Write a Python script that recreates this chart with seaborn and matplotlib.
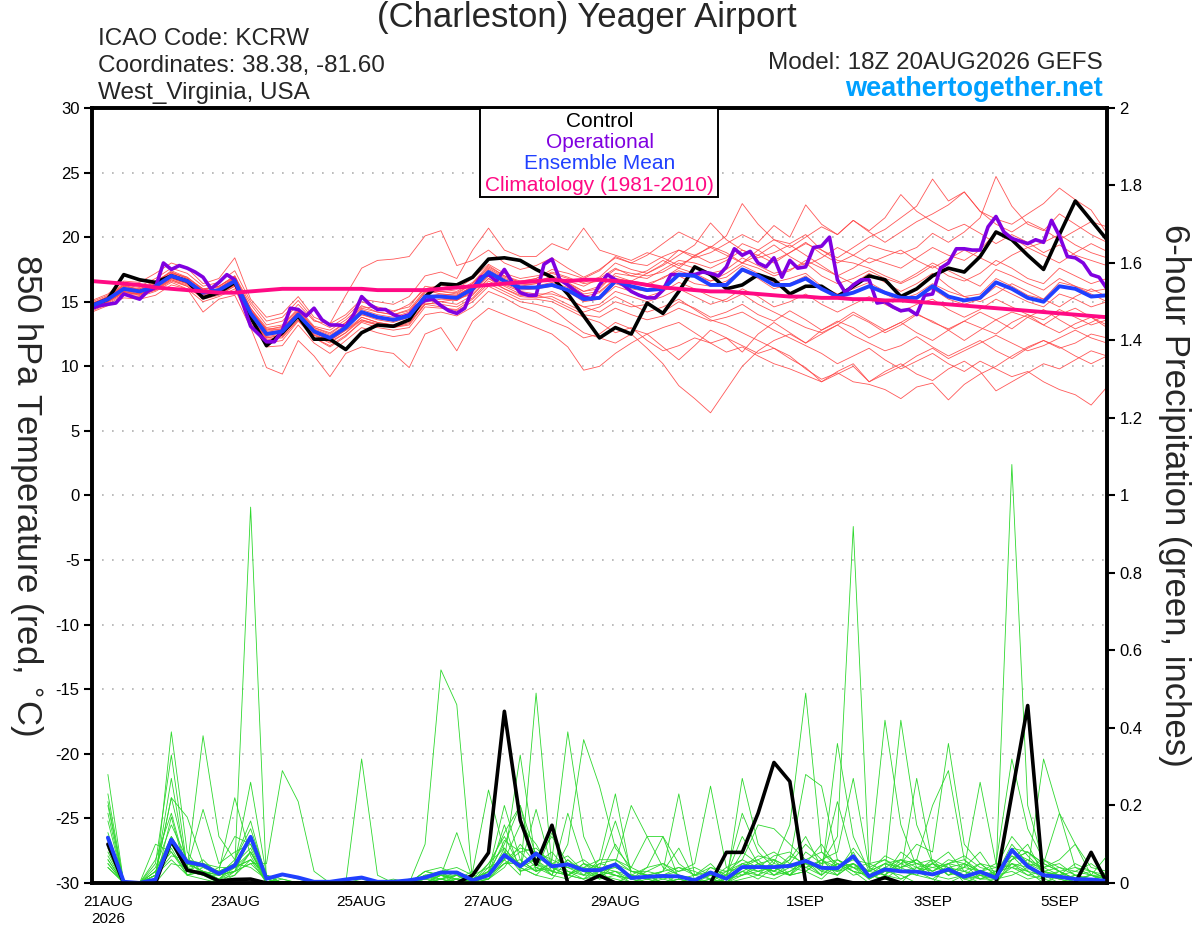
import numpy as np
import pandas as pd
import matplotlib
matplotlib.use("Agg")
import matplotlib.pyplot as plt
from matplotlib.patches import Rectangle
import seaborn as sns

# 850 hPa temperature (deg C), 6-hourly from 20AUG 18Z
control_t = [14.7, 15.2, 17.1, 16.7, 16.5, 17.0, 16.6, 15.3, 15.7, 16.5, 13.8, 11.6, 12.6, 13.9, 12.1,
             12.1, 11.3, 12.6, 13.2, 13.1, 13.6, 15.4, 16.4, 16.3, 16.9, 18.3, 18.4, 18.2, 17.5, 16.9,
             15.6, 13.9, 12.2, 13.0, 12.5, 14.9, 14.1, 15.8, 17.7, 17.1, 16.0, 16.3, 17.1, 16.7, 15.6,
             16.2, 16.2, 15.4, 16.2, 17.0, 16.7, 15.4, 16.0, 17.0, 17.6, 17.3, 18.5, 20.4, 19.8, 18.6,
             17.5, 20.2, 22.8, 21.3, 19.8]
ens_mean_t = [14.7, 15.2, 16.0, 15.8, 16.2, 17.0, 16.6, 15.7, 15.9, 16.6, 14.1, 12.5, 12.7, 14.0, 12.7,
              12.2, 13.0, 14.2, 13.8, 13.6, 13.9, 15.4, 15.4, 15.3, 16.0, 17.3, 16.6, 16.1, 16.1, 16.3,
              15.9, 15.2, 15.3, 16.6, 16.2, 15.9, 16.0, 17.1, 17.0, 16.3, 16.3, 17.5, 17.0, 16.3, 16.3,
              16.8, 16.0, 15.4, 15.7, 16.2, 15.7, 15.3, 15.3, 16.2, 15.4, 15.1, 15.3, 16.5, 16.0, 15.3,
              15.0, 16.2, 16.0, 15.4, 15.5]
climo_t = [16.6, 16.5, 16.4, 16.3, 16.1, 16.0, 15.9, 15.8, 15.7, 15.7, 15.8, 15.9, 16.0, 16.0, 16.0,
           16.0, 16.0, 16.0, 15.9, 15.9, 15.9, 15.9, 16.0, 16.1, 16.2, 16.3, 16.4, 16.5, 16.6, 16.7,
           16.6, 16.7, 16.7, 16.6, 16.5, 16.3, 16.1, 16.0, 15.9, 15.8, 15.8, 15.7, 15.6, 15.5, 15.4,
           15.4, 15.3, 15.3, 15.2, 15.2, 15.1, 15.1, 15.0, 14.9, 14.8, 14.7, 14.6, 14.5, 14.4, 14.3,
           14.2, 14.1, 14.0, 13.9, 13.8]
# operational run is 3-hourly
oper_t = [14.5, 14.7, 14.8, 14.9, 15.6, 15.4, 15.2, 15.8, 16.1, 18.0,
          17.5, 17.8, 17.6, 17.3, 16.9, 16.0, 16.5, 17.1, 16.7, 14.9,
          13.1, 12.5, 11.9, 11.9, 12.8, 14.5, 14.4, 13.9, 14.5, 13.6,
          13.2, 13.2, 13.1, 14.0, 15.4, 14.8, 14.4, 14.4, 14.0, 13.8,
          14.0, 14.7, 15.1, 15.2, 14.7, 14.3, 14.1, 14.5, 16.0, 16.9,
          17.1, 16.6, 17.5, 16.5, 15.7, 15.5, 15.5, 17.9, 18.3, 16.7,
          16.3, 15.8, 15.4, 15.2, 16.3, 17.1, 16.7, 16.3, 15.8, 15.5,
          15.3, 15.3, 15.9, 17.1, 17.1, 17.1, 17.1, 17.3, 17.2, 17.0,
          17.7, 19.1, 18.6, 18.9, 18.0, 17.7, 18.4, 16.9, 18.2, 17.6,
          17.7, 19.2, 19.3, 20.0, 16.7, 15.7, 16.3, 16.7, 16.7, 14.9,
          15.0, 14.6, 14.3, 14.4, 14.0, 15.5, 15.6, 17.6, 18.0, 19.1,
          19.1, 19.0, 19.0, 20.8, 21.6, 20.4, 19.9, 19.7, 19.5, 19.8,
          19.6, 21.3, 20.1, 18.5, 18.4, 18.0, 17.1, 16.9, 16.0]

# ensemble members, 850 hPa temperature
t01 = [14.5, 15.0, 15.8, 16.0, 16.5, 17.3, 16.8, 15.5, 16.0, 16.9, 14.5, 12.8, 12.9, 14.3, 13.0, 12.5, 13.4, 14.6, 14.5, 14.2, 14.8, 16.0, 16.3, 16.0, 16.8, 17.9, 17.2, 16.8, 17.0, 17.2, 16.8, 16.5, 16.9, 18.0, 17.5, 17.2, 17.9, 19.0, 18.6, 18.0, 18.4, 19.5, 19.0, 18.2, 18.8, 19.6, 18.7, 18.0, 18.6, 19.4, 19.0, 18.7, 19.2, 20.3, 19.6, 20.4, 21.5, 24.7, 22.4, 21.0, 20.5, 21.8, 21.0, 20.2, 19.6]
t02 = [14.8, 15.4, 16.2, 15.9, 16.4, 17.1, 16.7, 15.9, 16.2, 17.0, 14.8, 13.2, 13.5, 14.8, 13.5, 13.3, 15.5, 17.6, 18.2, 18.3, 18.5, 20.1, 20.5, 17.8, 18.2, 19.0, 18.0, 17.5, 17.8, 18.4, 17.6, 16.9, 17.5, 18.4, 18.0, 18.6, 19.5, 20.4, 19.8, 19.2, 20.1, 22.6, 21.0, 19.8, 19.5, 20.2, 19.0, 18.2, 18.0, 17.6, 17.0, 16.5, 17.2, 18.0, 17.4, 16.8, 16.2, 17.5, 17.0, 16.4, 15.9, 16.8, 16.2, 15.6, 15.0]
t03 = [14.4, 14.9, 15.6, 15.5, 15.9, 16.6, 16.2, 15.3, 15.6, 16.2, 13.6, 11.8, 12.0, 13.5, 12.2, 11.5, 12.3, 13.5, 13.2, 13.0, 13.2, 14.8, 14.6, 14.3, 15.0, 16.2, 15.6, 15.0, 14.8, 14.5, 13.5, 12.6, 12.2, 11.8, 12.5, 11.4, 10.2, 8.5, 7.5, 6.4, 8.2, 10.0, 11.2, 12.0, 12.5, 11.8, 12.8, 13.5, 13.0, 12.2, 12.8, 13.4, 12.6, 12.0, 12.8, 13.5, 13.0, 12.5, 13.4, 14.0, 13.2, 12.6, 13.3, 13.8, 13.0]
t04 = [15.0, 15.5, 16.4, 16.2, 16.8, 17.6, 17.2, 16.2, 16.5, 17.4, 15.0, 13.5, 13.8, 15.1, 13.6, 13.0, 13.8, 15.0, 14.6, 14.3, 14.6, 16.2, 16.0, 15.8, 16.5, 17.8, 17.0, 16.5, 16.8, 17.5, 17.2, 16.8, 17.4, 18.5, 18.0, 17.8, 18.5, 19.0, 18.4, 18.8, 19.5, 20.2, 19.6, 20.9, 20.0, 22.5, 21.0, 20.2, 21.3, 20.5, 21.5, 23.3, 22.0, 21.2, 20.5, 21.0, 20.3, 19.5, 20.2, 19.6, 18.8, 19.4, 18.6, 18.2, 17.8]
t05 = [14.6, 15.1, 15.9, 15.6, 16.0, 16.8, 16.4, 15.4, 15.8, 16.4, 13.9, 12.2, 12.4, 13.8, 12.4, 11.8, 12.6, 13.8, 13.4, 13.2, 13.5, 15.1, 15.0, 14.8, 15.5, 16.8, 16.2, 15.6, 15.5, 15.2, 14.6, 14.0, 13.8, 14.5, 14.0, 13.6, 13.9, 14.5, 14.0, 13.5, 13.8, 14.2, 13.5, 12.8, 12.2, 11.6, 11.0, 10.2, 10.8, 11.4, 10.5, 9.8, 10.4, 11.0, 10.2, 9.6, 10.4, 9.8, 9.2, 9.6, 8.8, 8.2, 7.8, 7.0, 8.4]
t06 = [14.9, 15.3, 16.1, 15.9, 16.3, 17.2, 16.9, 16.0, 16.1, 16.8, 14.2, 12.6, 12.8, 14.2, 12.9, 12.4, 13.2, 14.4, 14.0, 13.8, 14.2, 15.8, 15.8, 15.6, 16.4, 17.6, 16.9, 16.5, 16.6, 16.9, 16.5, 15.8, 16.0, 17.2, 17.0, 16.8, 17.5, 18.2, 18.0, 17.6, 18.2, 19.0, 18.6, 18.0, 18.8, 19.5, 19.0, 18.4, 19.2, 20.0, 20.6, 21.5, 22.4, 24.5, 22.8, 23.5, 22.0, 21.4, 21.0, 21.8, 22.6, 23.8, 22.9, 22.1, 20.3]
t07 = [14.3, 14.8, 15.5, 15.4, 15.8, 16.5, 16.0, 15.0, 15.4, 16.0, 13.4, 11.5, 11.6, 13.2, 11.8, 11.0, 12.0, 13.0, 12.6, 12.3, 12.5, 14.0, 14.2, 13.9, 14.6, 15.8, 15.3, 14.6, 14.2, 13.5, 13.0, 12.2, 12.5, 13.4, 12.9, 12.5, 13.0, 13.4, 12.6, 11.8, 12.2, 11.6, 11.0, 11.4, 10.8, 9.8, 9.0, 9.5, 8.8, 8.6, 8.2, 7.5, 8.4, 8.7, 7.4, 8.6, 9.4, 10.0, 10.8, 11.5, 12.0, 11.4, 11.8, 12.5, 12.2]
t08 = [14.7, 15.3, 16.0, 15.7, 16.1, 16.9, 16.5, 15.8, 16.0, 16.7, 14.3, 12.9, 13.0, 14.2, 12.8, 12.3, 13.1, 14.0, 13.6, 13.4, 13.8, 15.2, 15.5, 15.4, 16.2, 17.4, 16.7, 16.3, 16.4, 16.8, 16.4, 15.8, 16.2, 17.0, 16.6, 16.4, 16.8, 17.6, 17.2, 16.6, 16.9, 17.8, 17.2, 16.5, 16.8, 17.2, 16.2, 15.6, 16.0, 16.5, 15.8, 15.2, 15.6, 16.4, 15.8, 15.4, 15.6, 16.8, 16.2, 15.5, 15.2, 16.5, 16.2, 15.8, 16.0]
t09 = [14.2, 14.7, 15.3, 15.2, 15.5, 16.3, 16.0, 14.2, 15.2, 15.5, 13.0, 9.9, 9.4, 12.0, 10.8, 9.2, 11.0, 11.5, 11.2, 11.0, 9.9, 12.5, 13.0, 11.2, 13.5, 14.5, 14.0, 13.5, 13.0, 12.5, 11.5, 9.7, 10.0, 11.0, 11.8, 12.5, 11.5, 10.5, 11.6, 12.8, 12.2, 11.1, 12.5, 13.4, 12.6, 11.8, 12.5, 13.2, 14.0, 13.4, 12.6, 13.2, 14.0, 13.5, 12.8, 12.0, 12.8, 13.6, 14.2, 13.8, 13.2, 14.0, 14.5, 13.8, 13.2]
t10 = [15.1, 15.6, 16.6, 16.5, 17.2, 18.0, 17.6, 16.4, 16.8, 18.4, 15.2, 13.8, 14.1, 15.4, 13.8, 13.3, 14.0, 15.2, 15.0, 14.8, 15.4, 17.0, 17.3, 16.8, 19.0, 20.7, 19.0, 18.5, 18.5, 19.5, 19.0, 20.7, 19.0, 18.6, 18.2, 18.8, 18.4, 17.8, 18.5, 19.3, 18.8, 18.0, 18.6, 19.4, 18.5, 17.8, 18.4, 19.2, 18.6, 18.0, 18.5, 19.0, 18.2, 17.6, 18.3, 19.0, 18.4, 17.8, 18.6, 19.2, 18.6, 18.0, 18.8, 19.5, 18.9]
t11 = [14.5, 15.0, 15.7, 15.6, 16.0, 16.7, 16.3, 15.5, 15.7, 16.3, 13.8, 12.0, 12.3, 13.6, 12.4, 12.0, 12.8, 13.6, 13.2, 13.0, 13.4, 14.8, 15.0, 15.2, 15.6, 16.8, 16.0, 15.5, 15.4, 15.8, 15.2, 14.6, 14.2, 15.0, 14.6, 14.8, 14.2, 15.0, 14.5, 13.8, 14.2, 14.8, 14.0, 13.5, 14.3, 13.6, 12.8, 13.4, 14.2, 13.5, 12.8, 13.4, 14.1, 13.4, 12.9, 13.5, 14.2, 13.6, 12.9, 13.8, 14.4, 13.6, 12.9, 13.4, 14.0]
t12 = [14.8, 15.3, 16.2, 16.0, 16.5, 17.4, 16.9, 15.9, 16.2, 17.0, 14.5, 13.0, 13.2, 14.5, 13.1, 12.8, 13.6, 14.7, 14.2, 14.0, 14.4, 15.9, 15.6, 15.5, 16.2, 17.5, 16.8, 16.4, 16.5, 17.0, 16.6, 16.2, 16.8, 17.6, 17.0, 17.4, 18.2, 17.6, 18.6, 19.2, 18.6, 18.0, 19.0, 19.8, 19.2, 20.0, 20.8, 20.2, 21.3, 20.4, 19.6, 20.4, 21.2, 21.8, 22.5, 23.5, 22.0, 21.0, 20.4, 21.2, 20.6, 19.8, 20.5, 21.2, 20.8]
t13 = [14.6, 15.2, 15.9, 15.7, 16.2, 16.9, 16.5, 15.6, 15.8, 16.5, 14.0, 12.4, 12.6, 13.9, 12.6, 12.1, 12.9, 14.2, 13.8, 13.6, 13.9, 15.4, 15.3, 15.1, 15.8, 17.0, 16.4, 15.9, 16.0, 16.2, 15.8, 15.0, 15.2, 16.2, 15.8, 15.4, 15.8, 16.5, 16.0, 15.4, 15.0, 15.6, 14.8, 14.2, 13.6, 13.0, 12.6, 13.2, 12.4, 11.8, 11.2, 11.6, 12.3, 11.5, 10.8, 11.4, 12.0, 11.2, 10.6, 11.4, 12.0, 11.5, 10.8, 10.2, 10.8]
t14 = [14.8, 15.4, 16.3, 16.1, 16.6, 17.3, 16.8, 16.0, 16.2, 16.9, 14.4, 12.8, 13.1, 14.4, 13.0, 12.6, 13.4, 14.5, 14.2, 14.0, 14.3, 15.7, 15.8, 15.7, 16.4, 17.7, 17.0, 16.6, 16.8, 17.3, 16.9, 16.4, 16.6, 17.5, 17.2, 17.0, 17.3, 18.0, 17.6, 17.2, 17.5, 18.4, 17.8, 17.2, 17.5, 18.0, 17.0, 16.4, 16.8, 17.4, 16.8, 16.4, 17.0, 17.8, 17.0, 16.6, 17.2, 18.2, 17.6, 16.8, 16.4, 17.6, 17.0, 16.4, 16.8]
t15 = [14.5, 15.1, 15.8, 15.5, 15.9, 16.7, 16.2, 15.2, 15.5, 16.2, 13.7, 12.1, 12.2, 13.6, 12.2, 11.6, 12.4, 13.4, 13.0, 12.8, 13.0, 14.6, 14.5, 14.4, 15.2, 16.4, 15.8, 15.2, 15.2, 15.0, 14.4, 13.8, 13.4, 12.6, 13.0, 12.0, 11.2, 11.6, 12.2, 11.8, 11.1, 11.5, 10.8, 10.2, 9.8, 9.3, 8.8, 9.4, 10.0, 8.8, 9.6, 10.2, 9.4, 8.9, 9.8, 10.4, 9.6, 8.1, 8.8, 9.5, 10.2, 9.8, 10.5, 11.2, 10.8]
t16 = [14.9, 15.4, 16.3, 15.9, 16.4, 17.2, 16.7, 15.7, 16.0, 16.8, 14.3, 12.7, 12.9, 14.2, 12.8, 12.2, 13.0, 14.2, 13.8, 13.5, 13.8, 15.4, 15.6, 15.5, 16.2, 17.4, 16.6, 16.2, 16.4, 16.8, 16.4, 15.6, 15.8, 16.8, 16.6, 17.2, 17.8, 18.6, 19.4, 21.1, 19.8, 19.0, 18.4, 18.8, 19.4, 18.6, 17.8, 17.0, 16.4, 17.2, 16.5, 15.8, 16.4, 17.2, 16.2, 15.4, 15.0, 15.6, 16.4, 15.8, 15.2, 14.6, 15.4, 16.0, 15.4]
t17 = [14.4, 15.0, 15.7, 15.6, 16.0, 16.8, 16.4, 15.6, 15.8, 16.4, 13.9, 12.3, 12.5, 13.9, 12.6, 12.0, 12.8, 13.8, 13.4, 13.2, 13.6, 15.0, 15.2, 15.1, 15.8, 17.0, 16.3, 15.8, 15.6, 15.6, 15.2, 14.6, 14.8, 15.8, 15.4, 15.0, 15.4, 16.0, 15.4, 14.8, 15.2, 16.0, 15.4, 14.6, 15.0, 15.6, 14.8, 14.2, 14.8, 15.4, 14.8, 14.2, 14.8, 15.2, 14.4, 13.8, 14.4, 15.2, 14.6, 14.0, 13.6, 14.4, 13.8, 13.2, 13.6]
t18 = [14.7, 15.2, 16.1, 15.8, 16.3, 17.1, 16.6, 15.8, 16.0, 16.6, 14.2, 12.6, 12.8, 14.1, 12.7, 12.2, 13.0, 14.0, 13.7, 13.5, 13.9, 15.3, 15.4, 15.3, 16.0, 17.2, 16.5, 16.1, 16.2, 16.5, 16.1, 15.4, 15.7, 16.8, 16.5, 16.2, 16.9, 17.4, 17.0, 16.6, 17.2, 18.0, 17.6, 17.0, 17.4, 18.2, 17.6, 17.0, 17.6, 18.4, 18.0, 17.6, 18.4, 19.2, 18.6, 18.2, 19.0, 20.4, 20.0, 19.2, 19.6, 20.2, 19.4, 18.8, 18.4]
t19 = [14.6, 15.0, 15.8, 15.6, 16.1, 16.9, 16.4, 15.4, 15.7, 16.3, 13.8, 12.2, 12.4, 13.8, 12.5, 11.9, 12.6, 13.6, 13.3, 13.0, 13.3, 14.9, 14.8, 14.6, 15.3, 16.6, 16.0, 15.4, 15.3, 15.4, 14.8, 14.2, 14.6, 15.4, 14.8, 14.2, 14.6, 15.2, 14.4, 13.6, 13.2, 12.6, 12.0, 11.4, 10.6, 9.9, 8.8, 9.6, 10.2, 8.8, 9.4, 10.0, 10.8, 11.4, 10.6, 11.2, 11.8, 12.4, 11.8, 11.2, 11.6, 12.2, 12.8, 12.2, 11.8]
t20 = [14.8, 15.3, 16.0, 15.9, 16.3, 17.0, 16.6, 15.7, 15.9, 16.6, 14.1, 12.5, 12.7, 14.0, 12.7, 12.2, 13.0, 14.1, 13.8, 13.6, 14.0, 15.4, 15.5, 15.2, 16.0, 17.3, 16.6, 16.0, 16.1, 16.3, 15.9, 15.2, 15.4, 16.4, 16.0, 15.8, 16.2, 17.0, 16.4, 16.2, 16.6, 17.4, 16.8, 16.0, 16.4, 17.0, 16.0, 15.4, 15.8, 16.2, 15.6, 15.0, 15.4, 16.0, 15.2, 14.8, 15.2, 16.2, 15.6, 15.0, 14.6, 15.6, 15.2, 14.6, 15.0]

# 6-hour precipitation (inches), 6-hourly from 21AUG 00Z
control_p = [0.10, 0, 0, 0, 0.11, 0.033, 0.024, 0.005, 0.009, 0.010, 0, 0, 0, 0, 0, 0,
             0, 0, 0, 0, 0, 0, 0, 0.02, 0.078, 0.443, 0.162, 0.048, 0.149, 0, 0, 0.019,
             0, 0, 0, 0, 0, 0, 0, 0.079, 0.079, 0.180, 0.311, 0.262, 0, 0, 0.009, 0,
             0, 0.014, 0, 0, 0, 0, 0, 0, 0, 0.229, 0.458, 0, 0, 0, 0.079, 0]
ens_mean_p = [0.117, 0.003, 0.0, 0.009, 0.112, 0.054, 0.046, 0.024, 0.045, 0.119, 0.011, 0.022, 0.014, 0.003, 0.003, 0.009,
              0.014, 0.003, 0.003, 0.007, 0.014, 0.027, 0.027, 0.007, 0.020, 0.072, 0.043, 0.076, 0.043, 0.048, 0.033, 0.033,
              0.048, 0.013, 0.016, 0.018, 0.017, 0.007, 0.027, 0.011, 0.041, 0.041, 0.041, 0.044, 0.057, 0.039, 0.038, 0.069,
              0.017, 0.035, 0.030, 0.029, 0.022, 0.035, 0.016, 0.029, 0.013, 0.085, 0.043, 0.020, 0.016, 0.010, 0.009, 0.005]

p01 = [0.28, 0, 0, 0.02, 0.22, 0.05, 0.03, 0.01, 0.04, 0.97, 0, 0.01, 0, 0, 0, 0, 0, 0, 0, 0, 0.02, 0.03, 0, 0, 0.05, 0.12, 0.04, 0.02, 0.01, 0.06, 0.03, 0.01, 0.02, 0, 0, 0, 0.01, 0, 0.03, 0, 0.02, 0.05, 0.03, 0.06, 0.12, 0.04, 0.02, 0.08, 0.01, 0.03, 0.02, 0, 0, 0.05, 0, 0.02, 0, 0.06, 0.1, 0.02, 0, 0.01, 0, 0]
p02 = [0.23, 0, 0, 0, 0.39, 0.08, 0.02, 0, 0.03, 0.12, 0, 0, 0, 0, 0, 0, 0, 0, 0, 0, 0.1, 0.55, 0.46, 0, 0.02, 0.08, 0.03, 0.05, 0.02, 0.01, 0.04, 0.02, 0.01, 0, 0.01, 0, 0, 0, 0, 0, 0.04, 0.02, 0.01, 0.03, 0.06, 0.02, 0.05, 0.03, 0, 0.02, 0.06, 0.03, 0.01, 0, 0.02, 0, 0.01, 0.08, 0.04, 0.01, 0.03, 0, 0, 0]
p03 = [0.21, 0, 0, 0.05, 0.33, 0.04, 0.38, 0.12, 0.06, 0.16, 0.01, 0, 0, 0, 0, 0, 0, 0, 0, 0, 0, 0.02, 0.01, 0, 0.01, 0.06, 0.02, 0.49, 0.04, 0.02, 0.01, 0.03, 0, 0.02, 0, 0, 0, 0, 0, 0.01, 0.03, 0.01, 0.04, 0.02, 0.03, 0.06, 0.02, 0.05, 0.02, 0.01, 0, 0.04, 0.02, 0.03, 0.01, 0, 0, 0.05, 0.03, 0, 0.02, 0.01, 0, 0.01]
p04 = [0.20, 0, 0, 0.02, 0.27, 0.03, 0.05, 0.02, 0.03, 0.08, 0, 0.02, 0.01, 0, 0, 0, 0, 0, 0, 0, 0.01, 0.02, 0.03, 0.01, 0.02, 0.07, 0.05, 0.06, 0.03, 0.02, 0.04, 0.01, 0.05, 0.01, 0, 0.02, 0, 0, 0.02, 0, 0.04, 0.03, 0.02, 0.05, 0.04, 0.02, 0.06, 0.03, 0.02, 0.04, 0.01, 0.03, 0.05, 0.02, 0.04, 0.08, 0.02, 1.08, 0.2, 0.05, 0.03, 0.01, 0.02, 0]
p05 = [0.18, 0, 0, 0, 0.17, 0.02, 0.01, 0, 0.02, 0.06, 0.02, 0, 0, 0, 0, 0, 0, 0, 0, 0.01, 0, 0.01, 0.02, 0, 0.03, 0.2, 0.06, 0.03, 0.05, 0.04, 0.02, 0.02, 0.03, 0, 0.02, 0, 0, 0, 0, 0, 0.03, 0.02, 0.06, 0.02, 0.08, 0.05, 0.12, 0.92, 0.04, 0.02, 0.01, 0.03, 0.06, 0.02, 0.05, 0.01, 0.03, 0.04, 0.06, 0.03, 0.02, 0, 0.01, 0]
p06 = [0.13, 0, 0, 0.03, 0.12, 0.05, 0.04, 0.03, 0.22, 0.07, 0, 0, 0, 0, 0, 0, 0, 0, 0, 0, 0, 0.01, 0, 0, 0.04, 0.06, 0.33, 0.05, 0.03, 0.02, 0.05, 0.04, 0.02, 0.01, 0, 0.01, 0, 0, 0.01, 0, 0.27, 0.1, 0.05, 0.15, 0.49, 0.08, 0.05, 0.03, 0.02, 0.05, 0.03, 0.02, 0.01, 0.04, 0.02, 0.01, 0.01, 0.04, 0.02, 0.01, 0, 0.02, 0.01, 0]
p07 = [0.10, 0, 0, 0, 0.10, 0.03, 0.02, 0.01, 0.05, 0.26, 0.02, 0, 0, 0, 0, 0, 0, 0, 0, 0, 0.02, 0.01, 0.03, 0.01, 0.01, 0.09, 0.04, 0.02, 0.06, 0.39, 0.12, 0.03, 0.02, 0.01, 0.02, 0, 0.01, 0, 0, 0.01, 0.03, 0.05, 0.02, 0.04, 0.03, 0.01, 0.05, 0.02, 0.03, 0.42, 0.15, 0.04, 0.02, 0.03, 0.01, 0.02, 0.01, 0.02, 0.04, 0.02, 0.01, 0, 0.01, 0.02]
p08 = [0.08, 0, 0, 0.1, 0.08, 0.02, 0.03, 0.02, 0.03, 0.05, 0.05, 0.29, 0.21, 0.03, 0, 0, 0, 0, 0, 0, 0, 0, 0.01, 0, 0.02, 0.15, 0.03, 0.04, 0.02, 0.1, 0.37, 0.25, 0.09, 0.04, 0.02, 0, 0.01, 0, 0.01, 0, 0.01, 0.02, 0.04, 0.02, 0.03, 0.06, 0.03, 0.04, 0.01, 0.03, 0.05, 0.06, 0.02, 0.01, 0.02, 0.03, 0.02, 0.03, 0.01, 0.02, 0.01, 0, 0, 0.01]
p09 = [0.06, 0, 0, 0.02, 0.22, 0.17, 0.05, 0.02, 0.04, 0.06, 0, 0, 0, 0, 0, 0, 0.32, 0.02, 0, 0, 0.03, 0.02, 0.02, 0, 0.02, 0.05, 0.06, 0.03, 0.04, 0.02, 0.01, 0.05, 0.04, 0.02, 0.01, 0, 0.02, 0, 0, 0, 0.05, 0.03, 0.04, 0.02, 0.05, 0.02, 0.36, 0.12, 0.03, 0.02, 0.05, 0.1, 0.08, 0.36, 0.1, 0.05, 0.02, 0.07, 0.03, 0.02, 0.03, 0.01, 0.02, 0.01]
p10 = [0.05, 0, 0, 0, 0.05, 0.04, 0.19, 0.05, 0.08, 0.1, 0, 0, 0, 0, 0, 0, 0, 0, 0.01, 0, 0, 0.02, 0.01, 0, 0.03, 0.1, 0.2, 0.03, 0.13, 0.02, 0.04, 0.06, 0.23, 0.02, 0.01, 0.03, 0.23, 0.02, 0.05, 0.01, 0.02, 0.04, 0.03, 0.02, 0.06, 0.04, 0.03, 0.05, 0.02, 0.03, 0.42, 0.15, 0.05, 0.02, 0.03, 0.01, 0.02, 0.05, 0.02, 0.03, 0.01, 0.02, 0, 0]
p11 = [0.04, 0, 0, 0, 0.1, 0.05, 0.03, 0.02, 0.05, 0.04, 0.01, 0, 0, 0, 0, 0, 0, 0, 0, 0, 0.01, 0.01, 0, 0.02, 0.01, 0.05, 0.05, 0.06, 0.02, 0.18, 0.05, 0.03, 0.02, 0.01, 0.03, 0.02, 0.03, 0.05, 0.25, 0.04, 0.02, 0.03, 0.05, 0.04, 0.06, 0.03, 0.02, 0.05, 0.02, 0.01, 0.04, 0.02, 0.05, 0.03, 0.04, 0.26, 0.05, 0.04, 0.03, 0.32, 0.18, 0.1, 0.02, 0.01]
p12 = [0.05, 0, 0, 0.03, 0.08, 0.03, 0.02, 0.04, 0.04, 0.06, 0.02, 0, 0, 0, 0, 0, 0, 0, 0, 0, 0.02, 0.02, 0.13, 0.01, 0.05, 0.09, 0.04, 0.19, 0.04, 0.05, 0.03, 0.04, 0.16, 0.03, 0.02, 0.03, 0.09, 0.01, 0.02, 0.02, 0.18, 0.08, 0.04, 0.06, 0.28, 0.25, 0.06, 0.04, 0.03, 0.05, 0.04, 0.05, 0.03, 0.06, 0.05, 0.03, 0.02, 0.06, 0.08, 0.04, 0.05, 0.02, 0.01, 0.01]
p13 = [0.06, 0, 0, 0.02, 0.06, 0.02, 0.04, 0.02, 0.03, 0.05, 0.01, 0, 0, 0, 0, 0, 0, 0, 0, 0, 0.03, 0.02, 0.01, 0.03, 0.24, 0.08, 0.05, 0.03, 0.05, 0.04, 0.06, 0.03, 0.05, 0.2, 0.12, 0.04, 0.02, 0.01, 0, 0.03, 0.05, 0.04, 0.03, 0.05, 0.04, 0.06, 0.08, 0.27, 0.04, 0.06, 0.03, 0.27, 0.05, 0.04, 0.03, 0.02, 0.03, 0.05, 0.04, 0.06, 0.03, 0.01, 0.02, 0.02]
p14 = [0.04, 0, 0, 0, 0.12, 0.05, 0.03, 0.01, 0.02, 0.08, 0.01, 0, 0, 0, 0, 0, 0, 0, 0, 0, 0, 0.01, 0.02, 0, 0.02, 0.11, 0.08, 0.04, 0.03, 0.02, 0.05, 0.02, 0.03, 0.01, 0.04, 0.12, 0.01, 0.02, 0.03, 0.01, 0.04, 0.06, 0.02, 0.03, 0.05, 0.04, 0.21, 0.06, 0.05, 0.03, 0.04, 0.06, 0.2, 0.29, 0.06, 0.03, 0.05, 0.32, 0.14, 0.06, 0.04, 0.03, 0.02, 0.07]
p15 = [0.10, 0, 0, 0, 0.1, 0.04, 0.02, 0.03, 0.05, 0.09, 0, 0, 0, 0, 0, 0, 0, 0, 0, 0, 0.01, 0, 0.01, 0.01, 0.03, 0.06, 0.09, 0.08, 0.06, 0.04, 0.03, 0.05, 0.06, 0.04, 0.12, 0.12, 0.05, 0.02, 0.04, 0.03, 0.06, 0.15, 0.14, 0.1, 0.06, 0.03, 0.05, 0.04, 0.02, 0.04, 0.06, 0.05, 0.04, 0.03, 0.02, 0.05, 0.04, 0.06, 0.08, 0.05, 0.18, 0.04, 0.03, 0.02]
p16 = [0.16, 0, 0, 0.04, 0.15, 0.06, 0.05, 0.04, 0.12, 0.1, 0.02, 0, 0, 0, 0, 0, 0.01, 0, 0, 0, 0, 0.02, 0, 0, 0.02, 0.07, 0.04, 0.06, 0.12, 0.05, 0.04, 0.03, 0.04, 0.02, 0.01, 0.02, 0.04, 0.02, 0.01, 0.02, 0.12, 0.05, 0.06, 0.04, 0.06, 0.08, 0.04, 0.06, 0.03, 0.05, 0.06, 0.04, 0.03, 0.05, 0.06, 0.02, 0.02, 0.08, 0.06, 0.04, 0.06, 0.1, 0.04, 0.03]
p17 = [0.12, 0, 0, 0.06, 0.18, 0.03, 0.06, 0.02, 0.06, 0.14, 0.02, 0.01, 0, 0, 0, 0, 0, 0, 0, 0, 0.02, 0.01, 0, 0.01, 0.03, 0.06, 0.15, 0.1, 0.03, 0.06, 0.02, 0.06, 0.06, 0.03, 0.02, 0.01, 0.02, 0.01, 0.02, 0.01, 0.08, 0.05, 0.03, 0.07, 0.05, 0.04, 0.03, 0.09, 0.04, 0.02, 0.08, 0.05, 0.06, 0.04, 0.05, 0.03, 0.04, 0.12, 0.07, 0.03, 0.02, 0.05, 0.03, 0.01]
p18 = [0.09, 0, 0, 0.01, 0.09, 0.02, 0.03, 0.01, 0.03, 0.12, 0, 0, 0, 0, 0, 0, 0, 0, 0, 0, 0.03, 0.04, 0.02, 0, 0.01, 0.04, 0.1, 0.05, 0.08, 0.03, 0.01, 0.02, 0.1, 0.03, 0.03, 0.05, 0.02, 0, 0.04, 0.02, 0.05, 0.06, 0.08, 0.05, 0.1, 0.06, 0.04, 0.05, 0.01, 0.04, 0.03, 0.04, 0.05, 0.08, 0.03, 0.05, 0.02, 0.1, 0.05, 0.04, 0.02, 0.03, 0.05, 0.02]
p19 = [0.07, 0, 0, 0.02, 0.07, 0.06, 0.02, 0.02, 0.04, 0.08, 0.01, 0, 0, 0, 0, 0, 0, 0, 0, 0, 0.01, 0.03, 0.04, 0.02, 0.04, 0.13, 0.2, 0.07, 0.04, 0.03, 0.02, 0.04, 0.03, 0.02, 0.04, 0.05, 0.03, 0.04, 0.02, 0.03, 0.04, 0.07, 0.06, 0.04, 0.05, 0.1, 0.04, 0.05, 0.03, 0.07, 0.05, 0.03, 0.04, 0.05, 0.07, 0.04, 0.03, 0.07, 0.05, 0.03, 0.04, 0.02, 0.03, 0.01]
p20 = [0.11, 0, 0, 0.03, 0.11, 0.04, 0.05, 0.03, 0.05, 0.11, 0.01, 0, 0, 0, 0, 0, 0, 0, 0, 0, 0.02, 0, 0.02, 0.01, 0.02, 0.05, 0.08, 0.09, 0.05, 0.07, 0.03, 0.02, 0.05, 0.03, 0.02, 0.03, 0.04, 0.03, 0.01, 0.04, 0.06, 0.04, 0.07, 0.08, 0.04, 0.05, 0.06, 0.04, 0.05, 0.06, 0.04, 0.06, 0.03, 0.05, 0.04, 0.03, 0.02, 0.09, 0.08, 0.05, 0.03, 0.04, 0.02, 0.01]

# hours since 21AUG 00Z
tick_hours = [0, 48, 96, 144, 192, 264, 312, 360]
tick_labels = ['21AUG\n2026', '23AUG', '25AUG', '27AUG', '29AUG', '1SEP', '3SEP', '5SEP']
legend_labels = ['Control', 'Operational', 'Ensemble Mean', 'Climatology (1981-2010)']

RED = '#ff4545'
GREEN = '#2ed82e'
PURPLE = '#8000e0'
BLUE = '#2040ff'
PINK = '#ff0a84'

temp_members = [t01, t02, t03, t04, t05, t06, t07, t08, t09, t10,
                t11, t12, t13, t14, t15, t16, t17, t18, t19, t20]
precip_members = [p01, p02, p03, p04, p05, p06, p07, p08, p09, p10,
                  p11, p12, p13, p14, p15, p16, p17, p18, p19, p20]

t_hours = -6 + 6 * np.arange(len(control_t))
op_hours = -6 + 3 * np.arange(len(oper_t))
p_hours = 6 * np.arange(len(control_p))

red_df = pd.concat([pd.DataFrame({'hour': t_hours, 'value': m, 'member': n})
                    for n, m in enumerate(temp_members)], ignore_index=True)
green_df = pd.concat([pd.DataFrame({'hour': p_hours, 'value': m, 'member': n})
                      for n, m in enumerate(precip_members)], ignore_index=True)

sns.set_style('white')
plt.rcParams['font.family'] = ['Liberation Sans', 'DejaVu Sans']

fig = plt.figure(figsize=(12, 9.27), dpi=100)
ax = fig.add_axes([0.0767, 0.0475, 0.8458, 0.836])
ax2 = ax.twinx()

# dotted grid every 5 degrees
for y in range(-25, 30, 5):
    ax.axhline(y, color='#b0b0b0', lw=1.2, ls=(0, (1, 5)), zorder=0.5)

# temperatures on the left axis
sns.lineplot(data=red_df, x='hour', y='value', units='member', estimator=None,
             color=RED, lw=0.6, alpha=0.9, ax=ax, legend=False)
sns.lineplot(x=t_hours, y=control_t, color='black', lw=2.6, ax=ax)
sns.lineplot(x=op_hours, y=oper_t, color=PURPLE, lw=2.6, ax=ax)
sns.lineplot(x=t_hours, y=ens_mean_t, color=BLUE, lw=2.8, ax=ax)
sns.lineplot(x=t_hours, y=climo_t, color=PINK, lw=2.8, ax=ax)

# precipitation on the right axis
sns.lineplot(data=green_df, x='hour', y='value', units='member', estimator=None,
             color=GREEN, lw=0.6, ax=ax2, legend=False)
sns.lineplot(x=p_hours, y=control_p, color='black', lw=2.6, ax=ax2)
sns.lineplot(x=p_hours, y=ens_mean_p, color=BLUE, lw=2.8, ax=ax2)

ax.set_xlim(-6, 378)
ax.set_ylim(-30, 30)
ax2.set_ylim(0, 2)
ax.set_xticks(tick_hours, tick_labels)
ax.set_yticks(range(-30, 31, 5), [str(v) for v in range(-30, 31, 5)])
rticks = np.round(np.arange(0, 2.01, 0.2), 1)
ax2.set_yticks(rticks, [f'{v:g}' for v in rticks])

for a in (ax, ax2):
    for s in a.spines.values():
        s.set_linewidth(2.6)
        s.set_color('black')
    a.tick_params(direction='out', length=6, width=1.5, labelsize=12, colors='black', pad=3)
ax.tick_params(axis='x', labelsize=11)
ax.set_xlabel('')
ax.set_ylabel('')
ax2.set_xlabel('')

ax.set_ylabel('850 hPa Temperature (red, $^{\\circ}$C)', fontsize=25, rotation=270,
              va='top', ha='center')
ax.yaxis.set_label_coords(-0.046, 0.5)
ax2.set_ylabel('6-hour Precipitation (green, inches)', fontsize=25, rotation=270,
               va='bottom', ha='center')
ax2.yaxis.set_label_coords(1.05, 0.5)

# legend box
ax2.add_patch(Rectangle((0.382, 0.885), 0.2345, 0.115, transform=ax2.transAxes,
                        facecolor='white', edgecolor='black', lw=1.4, zorder=10, clip_on=False))
for n, (label, col) in enumerate(zip(legend_labels, ['black', PURPLE, BLUE, PINK])):
    ax2.text(0.5, 0.983 - n * 0.0275, label, color=col, fontsize=15, ha='center', va='center',
             transform=ax2.transAxes, zorder=11)

# header texts
fig.text(0.489, 0.981, '(Charleston) Yeager Airport', fontsize=25, ha='center', va='center')
fig.text(0.0817, 0.958, 'ICAO Code: KCRW', fontsize=17.5, ha='left', va='center')
fig.text(0.0817, 0.929, 'Coordinates: 38.38, -81.60', fontsize=17.5, ha='left', va='center')
fig.text(0.0817, 0.900, 'West_Virginia, USA', fontsize=17.5, ha='left', va='center')
fig.text(0.919, 0.932, 'Model: 18Z 20AUG2026 GEFS', fontsize=17.5, ha='right', va='center')
fig.text(0.919, 0.904, 'weathertogether.net', fontsize=19.5, fontweight='bold', color='#00a0ff',
         ha='right', va='center')

fig.savefig('out.png', dpi=100)
